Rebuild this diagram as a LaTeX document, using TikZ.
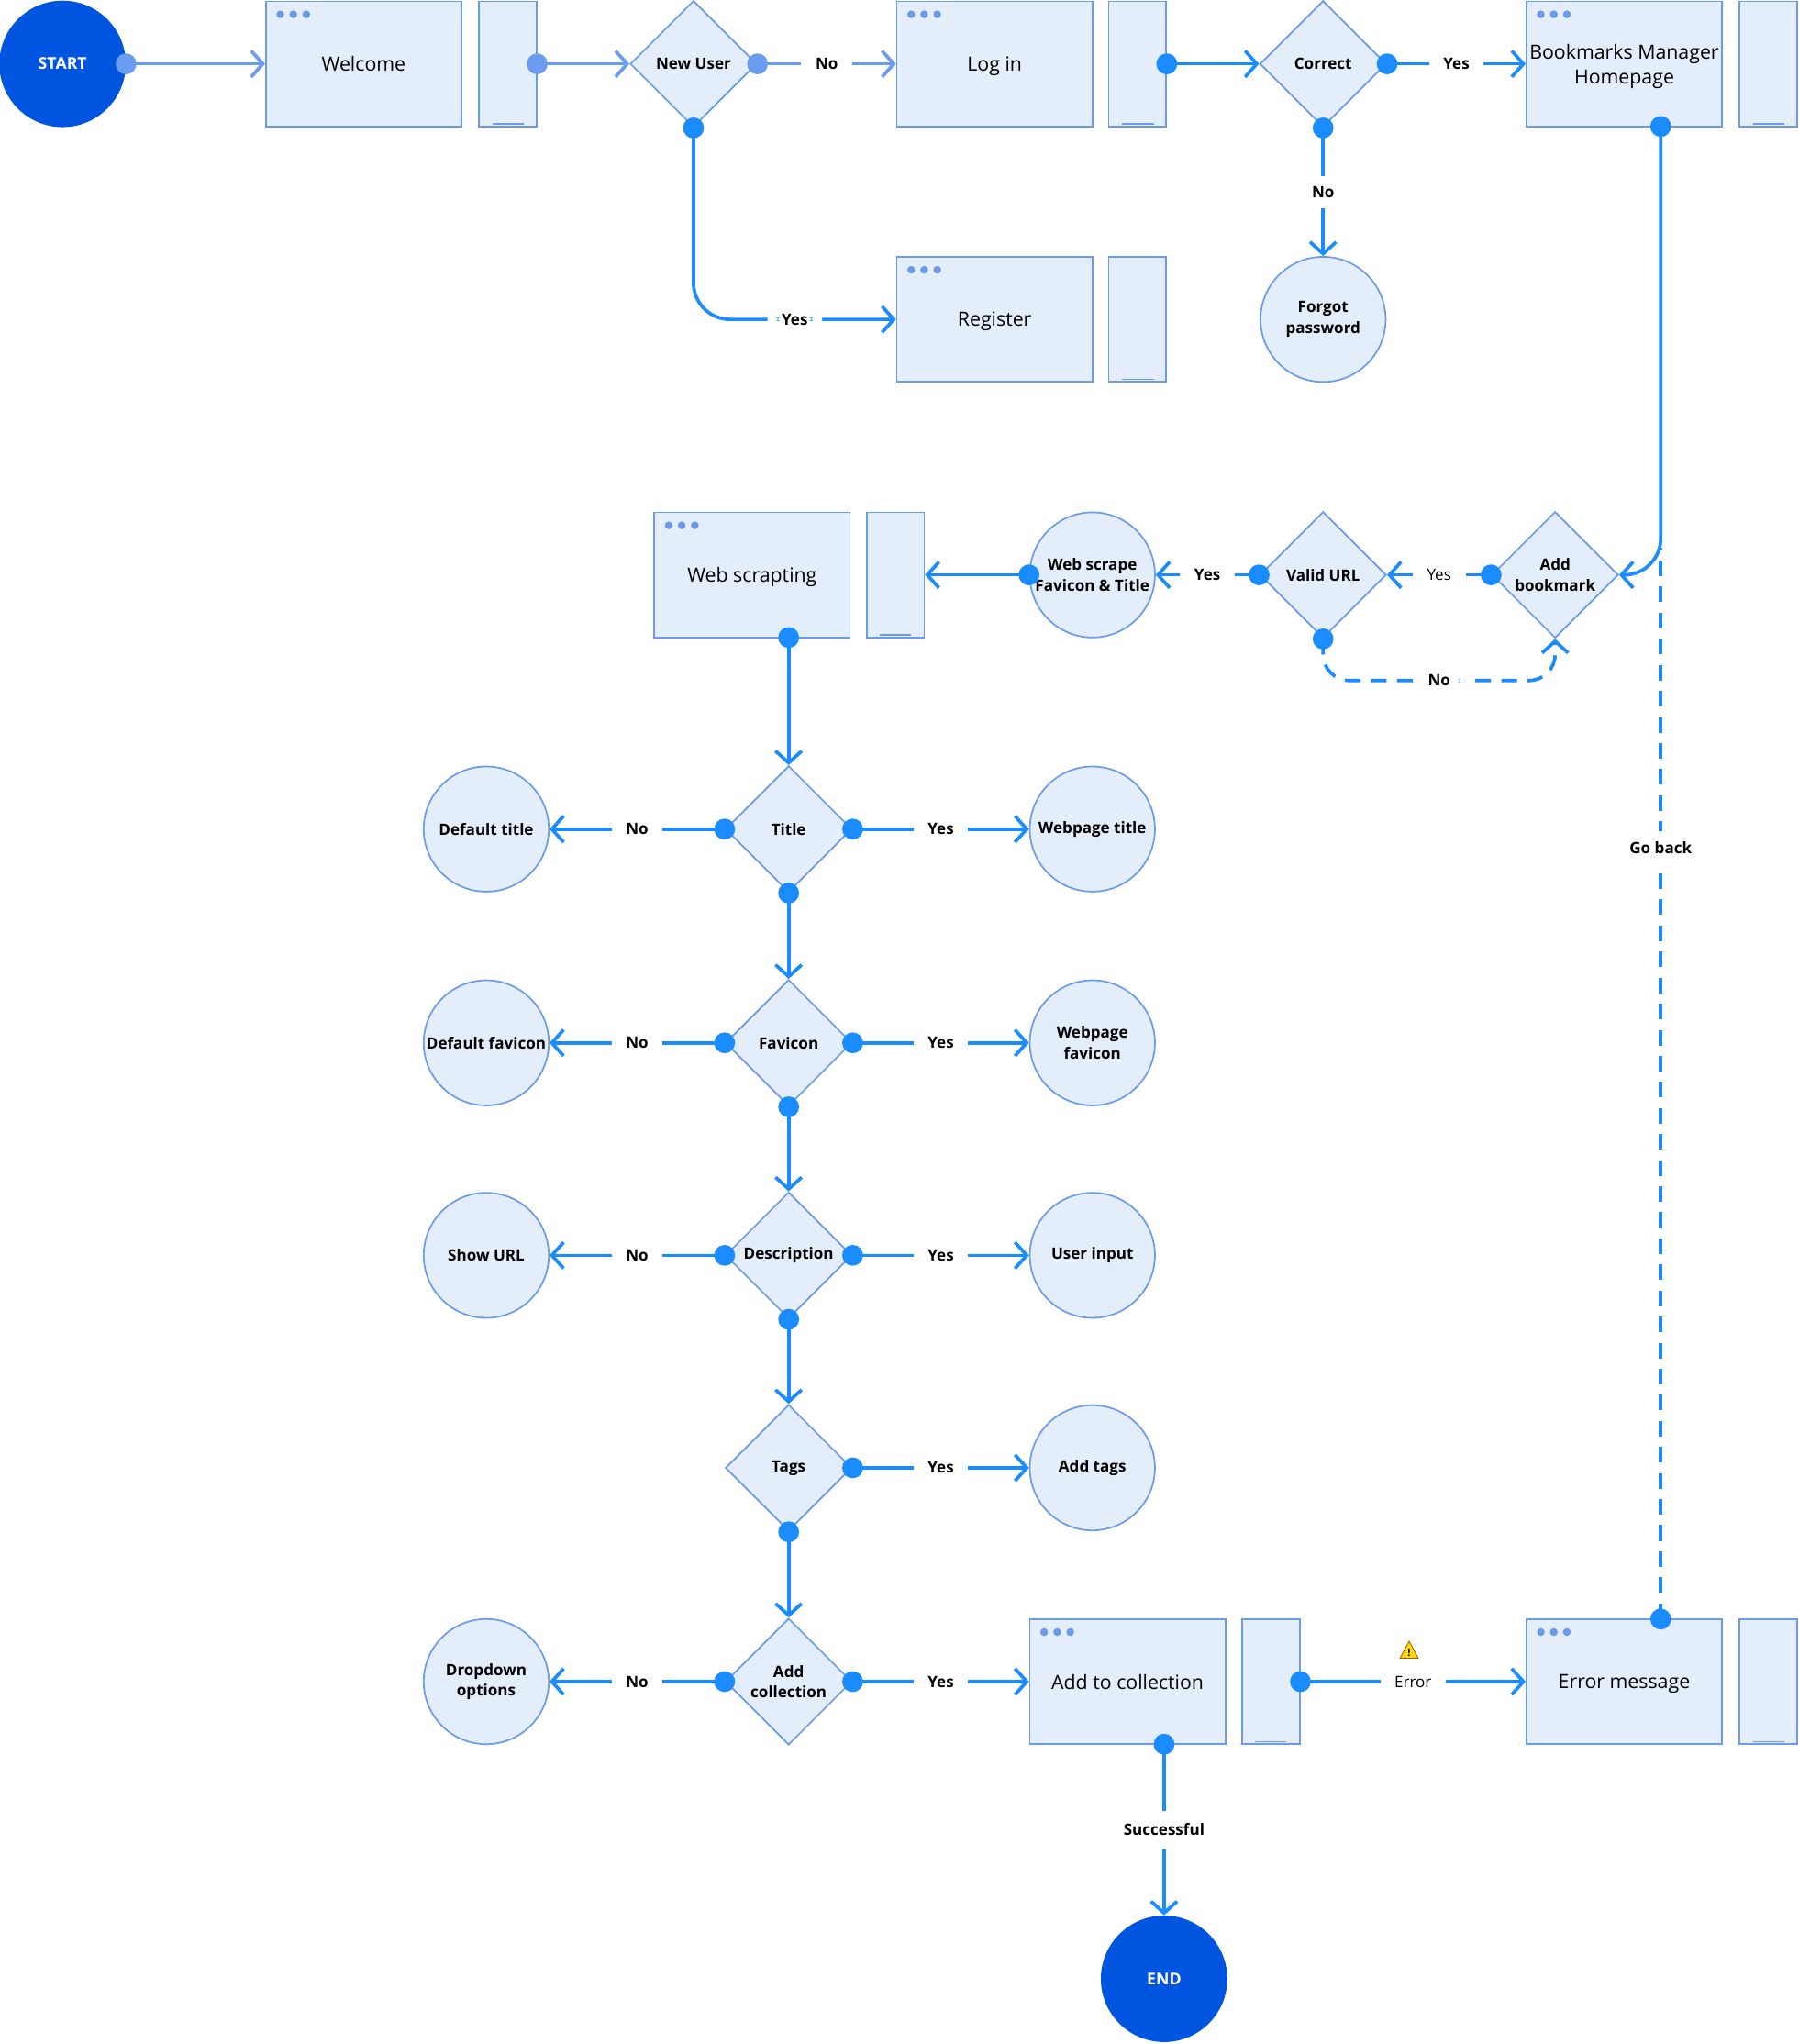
\documentclass[tikz,border=0pt]{standalone}
\usepackage{fontspec}
\setmainfont{Open Sans}
\usetikzlibrary{shapes.geometric,arrows.meta}
\definecolor{ln}{HTML}{1A8CFF}
\definecolor{lnl}{HTML}{6A9CF0}
\definecolor{bx}{HTML}{E4EEFB}
\definecolor{bd}{HTML}{6B9BE8}
\definecolor{dk}{HTML}{0055E0}
\begin{document}
\begin{tikzpicture}[x=1pt,y=-1pt,
  win/.style={draw=bd,fill=bx,line width=1.2pt,minimum width=150pt,minimum height=96pt,inner sep=0,align=center,font=\fontsize{15}{19}\selectfont,text depth=-4pt},
  ph/.style={draw=bd,fill=bx,line width=1.2pt,minimum width=44pt,minimum height=96pt,inner sep=0},
  dia/.style={diamond,draw=bd,fill=bx,line width=1.2pt,minimum width=97pt,minimum height=97pt,inner sep=0,align=center,font=\fontsize{12}{16}\selectfont\bfseries},
  circ/.style={circle,draw=bd,fill=bx,line width=1.2pt,minimum size=96pt,inner sep=0,align=center,font=\fontsize{12}{16}\selectfont\bfseries},
  term/.style={circle,fill=dk,minimum size=97pt,inner sep=0,text=white,font=\fontsize{12.5}{16}\selectfont\bfseries},
  con/.style={draw=ln,line width=2.6pt,-{Straight Barb[length=9pt,width=20pt,line width=2.6pt]}},
  conl/.style={con,draw=lnl},
  dsh/.style={dash pattern=on 12pt off 8pt},
  lbl/.style={fill=white,inner xsep=11pt,inner ysep=4pt,font=\fontsize{12}{16}\selectfont\bfseries},
  dot/.style={fill=ln},
]
\useasboundingbox (0,0) rectangle (1380,1568);
\newcommand{\wdots}[2]{\fill[bd] (#1+11,#2+10) circle (3) (#1+21,#2+10) circle (3) (#1+31,#2+10) circle (3);}
\newcommand{\phl}[2]{\draw[bd,line width=0.8pt] (#1+10,#2+94) -- (#1+34,#2+94);}
% windows
\node[win] (wel) at (279,49) {Welcome}; \wdots{204}{1}
\node[ph] (welp) at (389.5,49) {}; \phl{368}{1}
\node[win] (log) at (763,49) {Log in}; \wdots{688}{1}
\node[ph] (logp) at (872.5,49) {}; \phl{851}{1}
\node[win,text depth=0pt] (bm) at (1246,49) {Bookmarks Manager\\Homepage}; \wdots{1171}{1}
\node[ph] (bmp) at (1356.5,49) {}; \phl{1335}{1}
\node[win] (reg) at (763,245) {Register}; \wdots{688}{197}
\node[ph] (regp) at (872.5,245) {}; \phl{851}{197}
\node[win] (ws) at (577,441) {Web scrapting}; \wdots{502}{393}
\node[ph] (wsp) at (687,441) {}; \phl{665}{393}
\node[win] (atc) at (865,1290) {Add to collection}; \wdots{790}{1242}
\node[ph] (atcp) at (975,1290) {}; \phl{953}{1242}
\node[win] (err) at (1246,1290) {Error message}; \wdots{1171}{1242}
\node[ph] (errp) at (1356.5,1290) {}; \phl{1335}{1242}
% terminals
\node[term] (start) at (48,49) {START};
\node[term] (end) at (893,1518) {END};
% diamonds
\node[dia] (nu) at (532,49) {New User};
\node[dia] (cor) at (1015,49) {Correct};
\node[dia] (addb) at (1193,441) {Add\\bookmark};
\node[dia] (val) at (1015,441) {Valid URL};
\node[dia] (tit) at (605,636) {Title};
\node[dia] (fav) at (605,800) {Favicon};
\node[dia] (des) at (605,963) {Description};
\node[dia] (tag) at (605,1126) {Tags};
\node[dia] (adc) at (605,1290) {Add\\collection};
% circles
\node[circ] (fp) at (1015,245) {Forgot\\password};
\node[circ] (wsc) at (838,441) {Web scrape\\Favicon \& Title};
\node[circ] (dt) at (373,636) {Default title};
\node[circ] (wt) at (838,636) {Webpage title};
\node[circ] (df) at (373,800) {Default favicon};
\node[circ] (wf) at (838,800) {Webpage\\favicon};
\node[circ] (su) at (373,963) {Show URL};
\node[circ] (ui) at (838,963) {User input};
\node[circ] (at) at (838,1126) {Add tags};
\node[circ] (dd) at (373,1290) {Dropdown\\options};
% connectors
\draw[conl] (start.east) -- (wel.west);
\draw[conl] (welp.east) -- (nu.west);
\draw[conl] (nu.east) -- node[lbl]{No} (log.west);
\draw[con] (logp.east) -- (cor.west);
\draw[con] (cor.east) -- node[lbl]{Yes} (bm.west);
\draw[con] (cor.south) -- node[lbl,inner ysep=8pt]{No} (fp.north);
\draw[con,rounded corners=28pt] (nu.south) -- (532,245) -- node[lbl,pos=0.5]{Yes} (reg.west);
\coordinate (bmd) at (1274,97);
\draw[con,rounded corners=28pt] (bmd) -- (1274,441) -- (addb.east);
\draw[con] (addb.west) -- node[lbl,font=\fontsize{12}{16}\selectfont]{Yes} (val.east);
\draw[con] (val.west) -- node[lbl]{Yes} (wsc.east);
\draw[con,dsh,rounded corners=20pt] (val.south) -- (1015,522) -- node[lbl,solid]{No} (1193,522) -- (addb.south);
\draw[con] (wsc.west) -- (wsp.east);
\coordinate (wsd) at (605,489);
\draw[con] (wsd) -- (tit.north);
\foreach \d/\l in {tit/dt,fav/df,des/su,adc/dd}{
  \draw[con] (\d.west) -- node[lbl]{No} (\l.east);
}
\draw[con] (tit.east) -- node[lbl]{Yes} (wt.west);
\draw[con] (fav.east) -- node[lbl]{Yes} (wf.west);
\draw[con] (des.east) -- node[lbl]{Yes} (ui.west);
\draw[con] (tag.east) -- node[lbl]{Yes} (at.west);
\draw[con] (adc.east) -- node[lbl]{Yes} (atc.west);
\draw[con] (tit.south) -- (fav.north);
\draw[con] (fav.south) -- (des.north);
\draw[con] (des.south) -- (tag.north);
\draw[con] (tag.south) -- (adc.north);
\draw[con] (atcp.east) -- node[lbl,font=\fontsize{12}{16}\selectfont]{Error} (err.west);
\coordinate (atd) at (893,1338);
\draw[con] (atd) -- node[lbl,inner ysep=10pt]{Successful} (end.north);
\coordinate (ert) at (1274,1242);
\coordinate (gb) at (1274,420);
\draw[draw=ln,line width=2.6pt,dsh] (ert) -- node[lbl,solid,pos=0.72,inner ysep=8pt]{Go back} (gb);
% warning icon
\fill[yellow!80!orange,draw=orange!70!black,line width=0.6pt,line join=round] (1081,1259) -- (1088,1272) -- (1074,1272) -- cycle;
\node[font=\fontsize{8}{8}\selectfont\bfseries,inner sep=0] at (1081,1267.5) {!};
% dots
\fill[lnl] (start.east) circle (8) (welp.east) circle (8) (nu.east) circle (8);
\fill[dot] (logp.east) circle (8) (cor.east) circle (8) (cor.south) circle (8) (nu.south) circle (8)
 (bmd) circle (8) (addb.west) circle (8) (val.west) circle (8) (val.south) circle (8) (wsc.west) circle (8)
 (wsd) circle (8) (atcp.east) circle (8) (atd) circle (8) (ert) circle (8) (tag.east) circle (8) (tag.south) circle (8);
\foreach \d in {tit,fav,des,adc}{\fill[dot] (\d.west) circle (8) (\d.east) circle (8);}
\foreach \d in {tit,fav,des}{\fill[dot] (\d.south) circle (8);}
\end{tikzpicture}
\end{document}
